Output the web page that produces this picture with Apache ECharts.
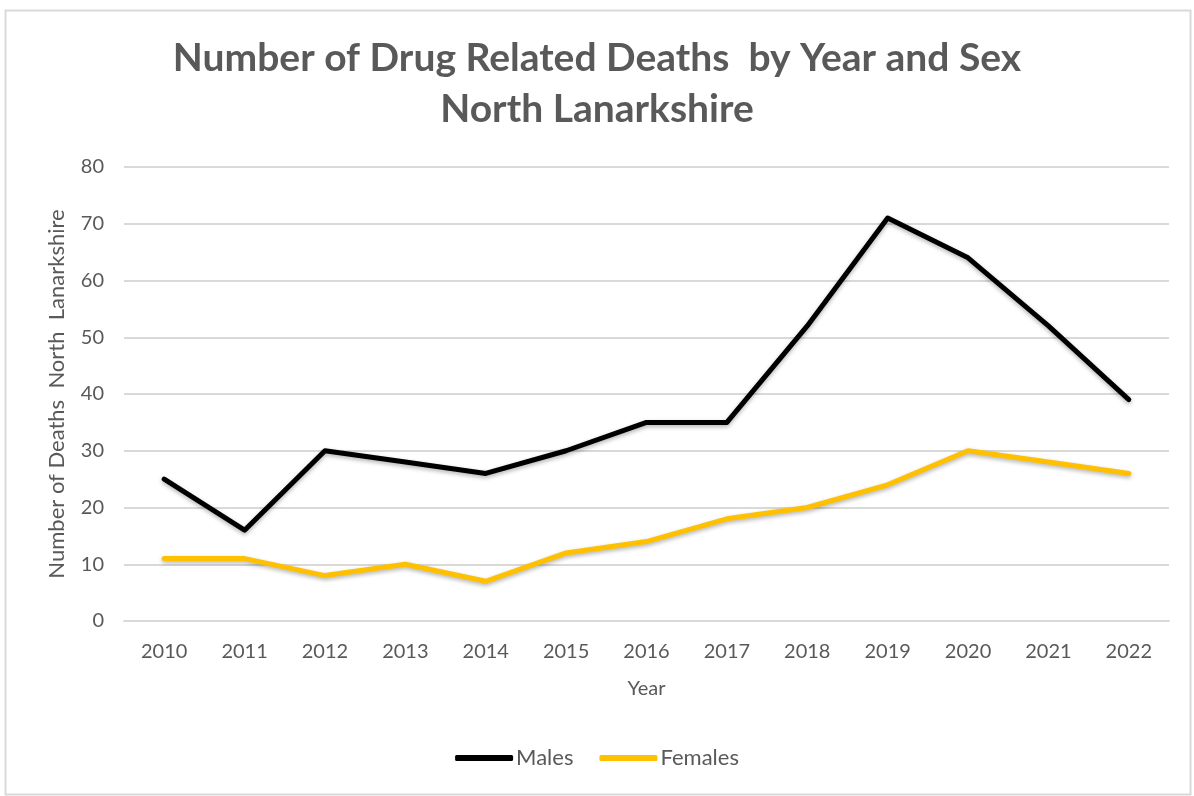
<!DOCTYPE html>
<html>
<head>
<meta charset="utf-8">
<script src="https://cdn.jsdelivr.net/npm/echarts@6/dist/echarts.min.js"></script>
<style>
html,body{margin:0;padding:0;background:#fff;}
#c{width:1194px;height:796px;}
</style>
</head>
<body>
<div id="c"></div>
<script>
const years = ['2010','2011','2012','2013','2014','2015','2016','2017','2018','2019','2020','2021','2022'];
const males = [25,16,30,28,26,30,35,35,52,71,64,52,39];
const females = [11,11,8,10,7,12,14,18,20,24,30,28,26];

const font = 'Lato, "Open Sans", sans-serif';
const chart = echarts.init(document.getElementById('c'));
chart.setOption({
  backgroundColor: '#fff',
  animation: false,
  graphic: [{
    type: 'rect', left: 3, top: 8, shape: {width: 1185, height: 784},
    style: {fill: 'none', stroke: '#d9d9d9', lineWidth: 2}, silent: true
  }],
  title: {
    text: 'Number of Drug Related Deaths  by Year and Sex\nNorth Lanarkshire',
    left: 'center', top: 28,
    textStyle: {fontFamily: font, fontSize: 39, fontWeight: 'bold', color: '#595959', lineHeight: 51}
  },
  grid: {left: 124, right: 25, top: 167, bottom: 175},
  legend: {
    bottom: 22, left: 'center', itemWidth: 58, itemHeight: 6, itemGap: 26,
    icon: 'roundRect',
    textStyle: {fontFamily: font, fontSize: 22, color: '#595959', padding: [0, 0, 0, -2]},
    data: ['Males', 'Females']
  },
  xAxis: {
    type: 'category', data: years, boundaryGap: true,
    name: 'Year', nameLocation: 'middle', nameGap: 58,
    nameTextStyle: {fontFamily: font, fontSize: 20, color: '#595959'},
    axisLine: {lineStyle: {color: '#d9d9d9', width: 2}},
    axisTick: {show: false},
    axisLabel: {fontFamily: font, fontSize: 20, color: '#595959', margin: 21}
  },
  yAxis: {
    type: 'value', min: 0, max: 80, interval: 10,
    name: 'Number of Deaths  North  Lanarkshire', nameLocation: 'middle', nameGap: 56,
    nameTextStyle: {fontFamily: font, fontSize: 22, color: '#595959'},
    axisLine: {show: false}, axisTick: {show: false},
    axisLabel: {fontFamily: font, fontSize: 20, color: '#595959', margin: 20},
    splitLine: {lineStyle: {color: '#d9d9d9', width: 2}}
  },
  series: [
    {name: 'Males', type: 'line', data: males, symbol: 'none',
     lineStyle: {color: '#000', width: 5, cap: 'round', join: 'round', shadowColor: 'rgba(0,0,0,0.3)', shadowBlur: 4, shadowOffsetY: 2},
     itemStyle: {color: '#000'}},
    {name: 'Females', type: 'line', data: females, symbol: 'none',
     lineStyle: {color: '#ffc000', width: 5, cap: 'round', join: 'round', shadowColor: 'rgba(0,0,0,0.3)', shadowBlur: 4, shadowOffsetY: 2},
     itemStyle: {color: '#ffc000'}}
  ]
});
</script>
</body>
</html>
